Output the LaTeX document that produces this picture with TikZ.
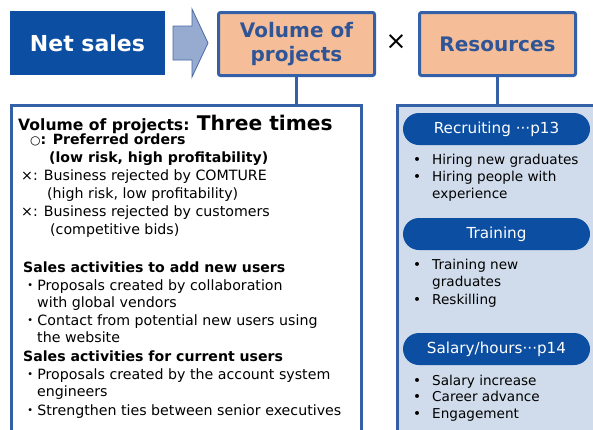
\documentclass[tikz,border=0pt]{standalone}
\usepackage{fontspec}
\setmainfont{DejaVu Sans}
\newfontfamily\cjk{Noto Sans CJK JP}
\definecolor{navy}{HTML}{0C4EA2}
\definecolor{frame}{HTML}{3460A8}
\definecolor{peach}{HTML}{F5BE98}
\definecolor{titleblue}{HTML}{2F5597}
\definecolor{paleblue}{HTML}{D0DCEC}
\definecolor{arrowfill}{HTML}{97AACF}
\definecolor{arrowedge}{HTML}{4A6AA8}
\begin{document}
\begin{tikzpicture}[x=1pt,y=-1pt,
  headbox/.style={draw=frame, line width=3pt, fill=peach, rounded corners=2pt,
    minimum width=156pt, minimum height=63pt, inner sep=0pt, align=center,
    text=titleblue, font=\fontsize{20}{24}\selectfont\bfseries},
  pill/.style={fill=navy, rounded corners=16pt, minimum width=187pt, minimum height=32pt,
    inner sep=0pt, text=white, text height=11pt, text depth=3pt,
    font=\fontsize{15.2}{18}\selectfont},
  ln/.style={anchor=west, inner sep=0pt, text height=10pt, text depth=3pt,
    font=\fontsize{14.2}{16}\selectfont},
  lnb/.style={ln, font=\fontsize{14.1}{16}\selectfont\bfseries},
  rln/.style={anchor=west, inner sep=0pt, text height=10pt, text depth=3pt,
    font=\fontsize{13.6}{16}\selectfont},
  link/.style={draw=frame, line width=3pt}
]
\useasboundingbox (0,0) rectangle (593,429);
\clip (0,0) rectangle (593,429);

% top row: net sales = volume x resources
\node[fill=navy, minimum width=155pt, minimum height=64pt, inner sep=0pt,
  text=white, font=\fontsize{22}{26}\selectfont\bfseries] (net) at (87.5,43) {Net sales};
\draw[fill=arrowfill, draw=arrowedge, line width=0.8pt]
  (173,26) -- (192,26) -- (192,9) -- (208,43) -- (192,77) -- (192,60) -- (173,60) -- cycle;
\node[headbox] (vol) at (296.5,44) {Volume of\\projects};
\node[inner sep=0pt, font=\fontsize{25}{25}\selectfont] (times) at (396,42) {×};
\node[headbox] (res) at (497.5,44) {Resources};

% detail panels
\node[draw=frame, line width=3pt, fill=white, anchor=north west,
  minimum width=350pt, minimum height=350pt, inner sep=0pt] (leftbox) at (10,104) {};
\node[draw=frame, line width=3pt, fill=paleblue, anchor=north west,
  minimum width=220pt, minimum height=350pt, inner sep=0pt] (rightbox) at (396,104) {};
\draw[link] (vol.south) -- (vol.south |- leftbox.north);
\draw[link] (res.south) -- (res.south |- rightbox.north);

% volume of projects
\node[anchor=base west, inner sep=0pt] (vhead) at (18,130)
  {{\fontsize{15.6}{18}\selectfont\bfseries Volume of projects: }{\fontsize{20.2}{22}\selectfont\bfseries Three times}};
\node[ln] (v1) at (30,141) {{\fontsize{12}{14}\selectfont ○}\textbf{\fontsize{14.1}{16}\selectfont: Preferred orders}};
\node[lnb] (v2) at (49,159) {(low risk, high profitability)};
\node[ln] (v3) at (21,177) {×: Business rejected by COMTURE};
\node[ln] (v4) at (47,195) {(high risk, low profitability)};
\node[ln] (v5) at (21,213) {×: Business rejected by customers};
\node[ln] (v6) at (50,231) {(competitive bids)};

\node[lnb] (s1) at (23,269) {Sales activities to add new users};
\node[ln] (s2) at (23,287) {{\cjk ・}Proposals created by collaboration};
\node[ln] (s3) at (37,304) {with global vendors};
\node[ln] (s4) at (23,322) {{\cjk ・}Contact from potential new users using};
\node[ln] (s5) at (37,339) {the website};
\node[lnb] (s6) at (23,358) {Sales activities for current users};
\node[ln] (s7) at (23,376) {{\cjk ・}Proposals created by the account system};
\node[ln] (s8) at (37,393) {engineers};
\node[ln] (s9) at (23,412) {{\cjk ・}Strengthen ties between senior executives};

% resources
\node[pill] (recruit) at (496.5,129) {Recruiting ···p13};
\node[rln] (rb1) at (413,161) {•};
\node[rln] (r1) at (432,161) {Hiring new graduates};
\node[rln] (rb2) at (413,178) {•};
\node[rln] (r2) at (432,178) {Hiring people with};
\node[rln] (r3) at (432,195) {experience};

\node[pill] (train) at (496.5,234) {Training};
\node[rln] (tb1) at (413,266) {•};
\node[rln] (t1) at (432,266) {Training new};
\node[rln] (t2) at (432,283) {graduates};
\node[rln] (tb2) at (413,301) {•};
\node[rln] (t3) at (432,301) {Reskilling};

\node[pill] (salary) at (496.5,349) {Salary/hours···p14};
\node[rln] (pb1) at (413,382) {•};
\node[rln] (p1) at (432,382) {Salary increase};
\node[rln] (pb2) at (413,398) {•};
\node[rln] (p2) at (432,398) {Career advance};
\node[rln] (pb3) at (413,415) {•};
\node[rln] (p3) at (432,415) {Engagement};
\end{tikzpicture}
\end{document}
